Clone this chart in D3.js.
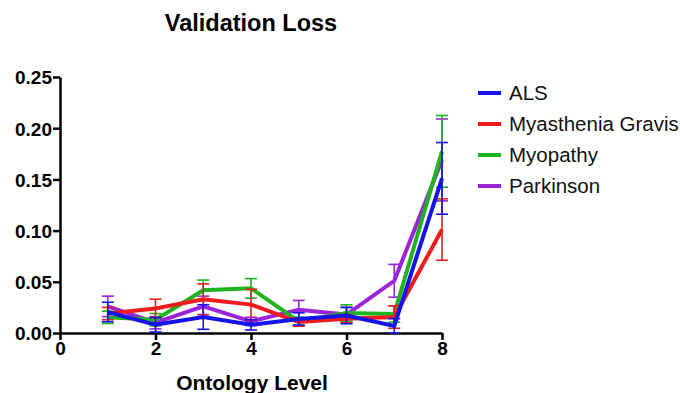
<!DOCTYPE html>
<html>
<head>
<meta charset="utf-8">
<script src="https://cdn.jsdelivr.net/npm/d3@7"></script>
<style>
  body { margin: 0; background: #fff; }
  text { font-family: "Liberation Sans", Arial, sans-serif; }
</style>
</head>
<body>
<div id="chart"></div>
<script>
const levels = [1, 2, 3, 4, 5, 6, 7, 8];
const seriesNames = ['ALS', 'Myasthenia Gravis', 'Myopathy', 'Parkinson'];
const seriesColors = ['#1414e6', '#ee1c1c', '#1eb41e', '#9b24d8'];

const alsMean = [0.0205, 0.008, 0.0156, 0.008, 0.0137, 0.017, 0.007, 0.151];
const alsErr = [0.0095, 0.007, 0.012, 0.005, 0.006, 0.008, 0.007, 0.035];
const mgMean = [0.019, 0.024, 0.033, 0.0277, 0.0107, 0.014, 0.0156, 0.101];
const mgErr = [0.006, 0.009, 0.015, 0.015, 0.004, 0.004, 0.011, 0.030];
const myoMean = [0.0153, 0.013, 0.0417, 0.0436, 0.0114, 0.0195, 0.0186, 0.1774];
const myoErr = [0.006, 0.006, 0.010, 0.0095, 0.004, 0.008, 0.008, 0.035];
const parkMean = [0.026, 0.010, 0.026, 0.0114, 0.0228, 0.018, 0.051, 0.169];
const parkErr = [0.010, 0.006, 0.010, 0.004, 0.009, 0.007, 0.016, 0.040];

const xTicks = [0, 2, 4, 6, 8];
const yTicks = [0, 0.05, 0.10, 0.15, 0.20, 0.25];

const series = [
  { name: seriesNames[0], color: seriesColors[0], mean: alsMean, err: alsErr },
  { name: seriesNames[1], color: seriesColors[1], mean: mgMean, err: mgErr },
  { name: seriesNames[2], color: seriesColors[2], mean: myoMean, err: myoErr },
  { name: seriesNames[3], color: seriesColors[3], mean: parkMean, err: parkErr },
];

const width = 680, height = 393;
const svg = d3.select('#chart').append('svg')
  .attr('width', width).attr('height', height);

const x = d3.scaleLinear().domain([0, 8]).range([60, 442]);
const y = d3.scaleLinear().domain([0, 0.25]).range([333, 77]);

// title
svg.append('text')
  .attr('x', 251).attr('y', 31)
  .attr('text-anchor', 'middle')
  .attr('font-size', 23.5).attr('font-weight', 'bold')
  .text('Validation Loss');

// axes
const yAxis = svg.append('g')
  .attr('transform', `translate(${x(0)},0)`)
  .call(d3.axisLeft(y).tickValues(yTicks).tickFormat(d3.format('.2f')).tickSize(7).tickSizeOuter(0));
const xAxis = svg.append('g')
  .attr('transform', `translate(0,${y(0)})`)
  .call(d3.axisBottom(x).tickValues(xTicks).tickFormat(d3.format('d')).tickSize(7).tickSizeOuter(0));

[xAxis, yAxis].forEach(g => {
  g.select('.domain').attr('stroke', '#000').attr('stroke-width', 2.5);
  g.selectAll('.tick line').attr('stroke', '#000').attr('stroke-width', 2.5);
  g.selectAll('.tick text')
    .attr('fill', '#000')
    .attr('font-size', 19).attr('font-weight', 'bold')
    .attr('font-family', '"Liberation Sans", Arial, sans-serif');
});
yAxis.selectAll('.tick text').attr('x', -8).attr('dy', '0.36em');
xAxis.selectAll('.tick text').attr('y', 9);

svg.append('text')
  .attr('x', 252).attr('y', 390)
  .attr('text-anchor', 'middle')
  .attr('font-size', 21).attr('font-weight', 'bold')
  .text('Ontology Level');

// draw order: Parkinson first, ALS last (on top)
const drawOrder = [3, 2, 1, 0];
const line = d3.line().x(d => x(d.lvl)).y(d => y(d.m));

drawOrder.forEach(i => {
  const s = series[i];
  const pts = levels.map((lvl, j) => ({ lvl, m: s.mean[j], e: s.err[j] }));
  const g = svg.append('g');

  // error bars
  const eb = g.selectAll('g.eb').data(pts).enter().append('g');
  eb.append('line')
    .attr('x1', d => x(d.lvl)).attr('x2', d => x(d.lvl))
    .attr('y1', d => y(d.m - d.e)).attr('y2', d => y(d.m + d.e))
    .attr('stroke', s.color).attr('stroke-width', 1.6);
  [-1, 1].forEach(sign => {
    eb.append('line')
      .attr('x1', d => x(d.lvl) - 6).attr('x2', d => x(d.lvl) + 6)
      .attr('y1', d => y(d.m + sign * d.e)).attr('y2', d => y(d.m + sign * d.e))
      .attr('stroke', s.color).attr('stroke-width', 1.6);
  });

  g.append('path')
    .datum(pts)
    .attr('d', line)
    .attr('fill', 'none')
    .attr('stroke', s.color)
    .attr('stroke-width', 4)
    .attr('stroke-linejoin', 'miter');
});

// legend
const legend = svg.append('g');
series.forEach((s, i) => {
  const ly = 93 + i * 31;
  legend.append('line')
    .attr('x1', 478).attr('x2', 501)
    .attr('y1', ly).attr('y2', ly)
    .attr('stroke', s.color).attr('stroke-width', 4);
  legend.append('text')
    .attr('x', 509).attr('y', ly)
    .attr('dy', '0.35em')
    .attr('font-size', 20.5)
    .attr('fill', '#111')
    .text(s.name);
});
</script>
</body>
</html>
